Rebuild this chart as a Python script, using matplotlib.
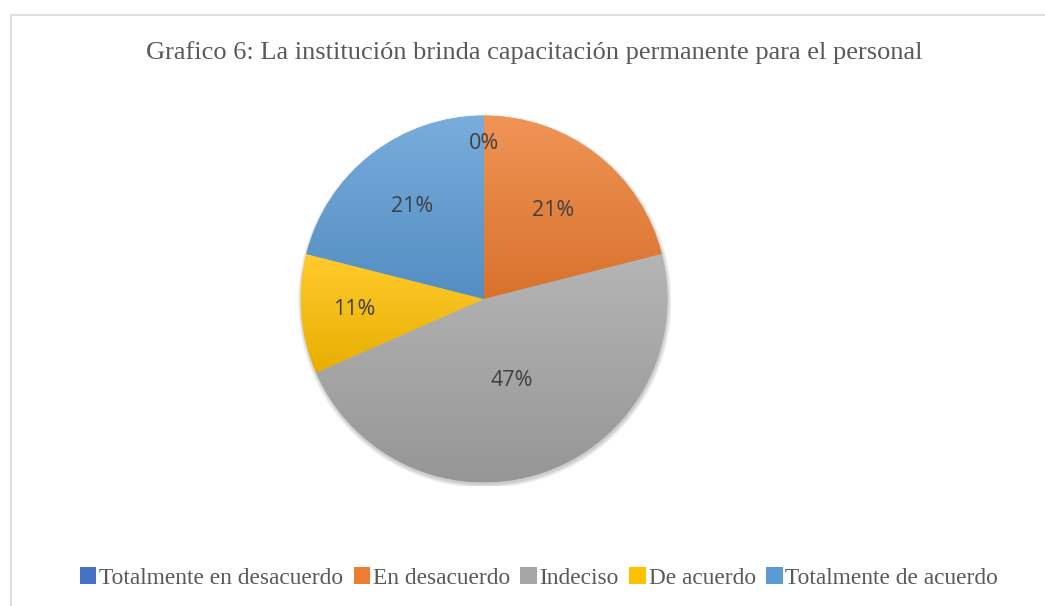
import numpy as np
import matplotlib
matplotlib.use('Agg')
import matplotlib.pyplot as plt
from matplotlib.colors import to_rgb
from matplotlib.patches import Patch, Rectangle, Circle

# data (counts read as 0/4/9/2/4 of 19 respondents)
categories = ['Totalmente en desacuerdo', 'En desacuerdo', 'Indeciso',
              'De acuerdo', 'Totalmente de acuerdo']
counts = [0, 4, 9, 2, 4]
colors = ['#4472C4', '#ED7D31', '#A5A5A5', '#FFC000', '#5B9BD5']
title = 'Grafico 6: La institución brinda capacitación permanente para el personal'

# radial position of each percentage label (fraction of radius)
label_r = [0.85, 0.61, 0.47, 0.71, 0.64]

fig = plt.figure(figsize=(10.45, 6.06), dpi=100)

# light chart frame
fig.patches.append(Rectangle((10.5 / 1045, -0.1), 1.2, 1 - 14.5 / 606 + 0.1,
                             transform=fig.transFigure, fill=False,
                             edgecolor='#D9D9D9', lw=1.2))

fig.text(534 / 1045, 1 - 53 / 606, title, ha='center', va='center',
         fontsize=19, color='#595959', family='Liberation Serif')

ax = fig.add_axes([(484 - 187) / 1045, (606 - 486) / 606, 374 / 1045, 374 / 606])
ax.axis('off')

# soft shadow under the pie
for k in range(6):
    ax.add_patch(Circle((0.004, -0.012), 1 + 0.004 * k, color='black',
                        alpha=0.035, lw=0, zorder=0))

wedges, texts = ax.pie(counts, startangle=90, counterclock=False,
                       radius=1, colors=colors,
                       wedgeprops=dict(linewidth=0))
total = sum(counts)

def shade(c, f):
    r = np.array(to_rgb(c))
    if f > 0:
        return r + (1 - r) * f
    return r * (1 + f)

for w, c in zip(wedges, colors):
    if w.theta2 - w.theta1 < 1e-6:
        continue
    th = np.radians(np.linspace(w.theta1, w.theta2, 200))
    ys = np.concatenate([[0], np.sin(th)])
    y0, y1 = ys.min(), ys.max()
    top, bot = shade(c, 0.18), shade(c, -0.09)
    t = np.linspace(0, 1, 256)[:, None]
    grad = (top[None, :] * (1 - t) + bot[None, :] * t)[:, None, :]
    im = ax.imshow(grad, extent=(-1, 1, y0, y1), origin='upper',
                   aspect='auto', zorder=2, interpolation='bilinear')
    im.set_clip_path(w)

ax.set_xlim(-1.02, 1.02)
ax.set_ylim(-1.02, 1.02)
ax.set_aspect('auto')

for w, n, lr in zip(wedges, counts, label_r):
    mid = np.radians((w.theta1 + w.theta2) / 2)
    ax.text(lr * np.cos(mid), lr * np.sin(mid), f'{100 * n / total:.0f}%',
            ha='center', va='center', fontsize=15.5, color='#404040',
            family='Open Sans', zorder=5)

handles = [Patch(facecolor=c, edgecolor='none') for c in colors]
fig.legend(handles, categories, loc='center', bbox_to_anchor=(539 / 1045, 1 - 578 / 606),
           ncol=5, frameon=False, handlelength=0.7, handleheight=0.7,
           handletextpad=0.12, columnspacing=0.45,
           prop={'family': 'Liberation Serif', 'size': 16.8}, labelcolor='#595959')

fig.savefig('out.png', dpi=100)
